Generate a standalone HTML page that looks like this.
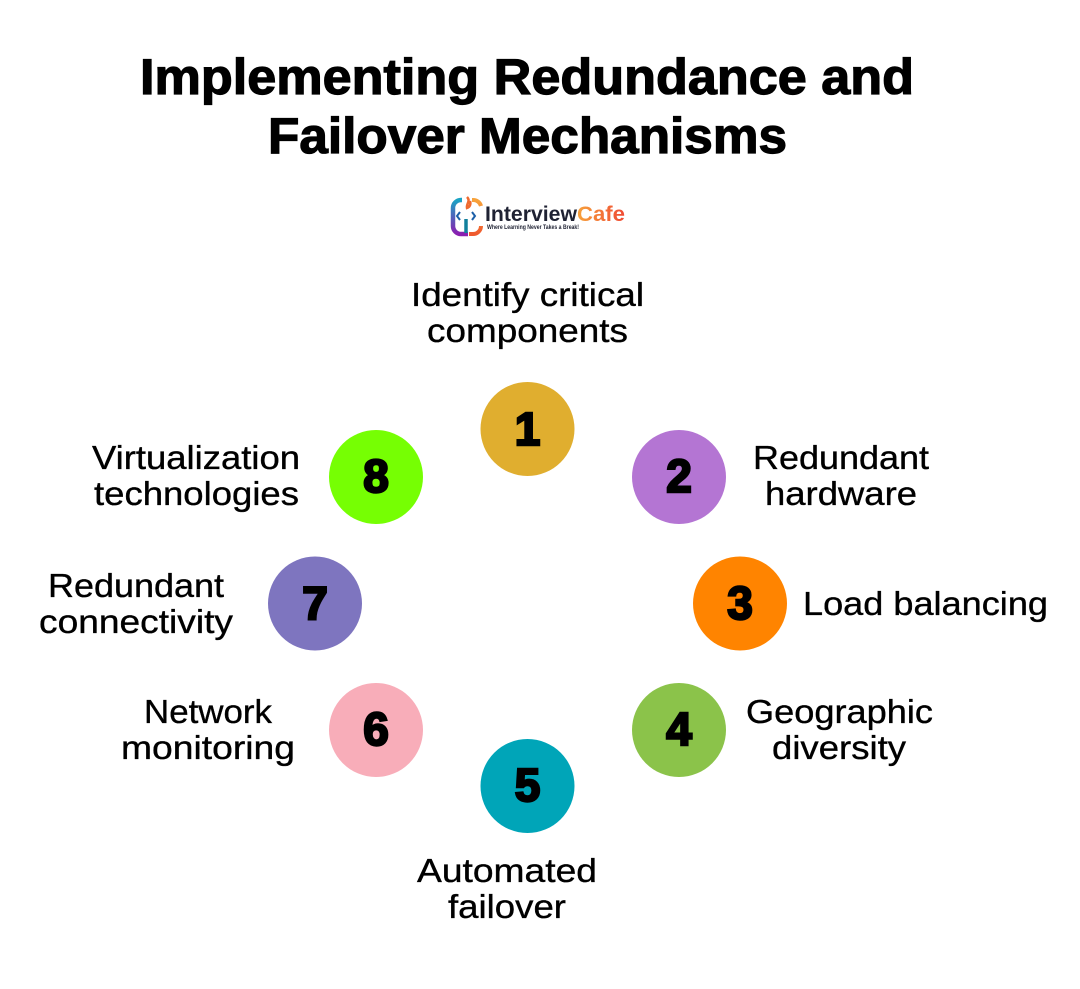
<!DOCTYPE html>
<html><head><meta charset="utf-8"><style>
html,body{margin:0;padding:0;background:#fff;width:1080px;height:989px;overflow:hidden}
svg{display:block}
text{font-family:"Liberation Sans",sans-serif;fill:#000}
.t{font-size:50px;font-weight:bold;stroke:#000;stroke-width:1.2px}
.l{font-size:33px;stroke:#000;stroke-width:.35px}
.n{font-size:46px;font-weight:bold;text-anchor:middle;stroke:#000;stroke-width:2.4px}
</style></head><body>
<svg width="1080" height="989" viewBox="0 0 1080 989" xmlns="http://www.w3.org/2000/svg">
<defs>
<linearGradient id="a" x1="0" y1="0" x2="0" y2="1"><stop offset="0" stop-color="#1aa3c4"/><stop offset="1" stop-color="#8a1fb0"/></linearGradient>
<linearGradient id="b" x1="0" y1="0" x2="0" y2="1"><stop offset="0" stop-color="#f7a23b"/><stop offset="1" stop-color="#ef5a2e"/></linearGradient>
<linearGradient id="c" x1="0" y1="0" x2="1" y2="0"><stop offset="0" stop-color="#f7a23b"/><stop offset="1" stop-color="#ef4a34"/></linearGradient>
</defs>
<text class="t" x="140" y="94" textLength="774" lengthAdjust="spacingAndGlyphs">Implementing Redundance and</text>
<text class="t" x="268" y="153" textLength="519" lengthAdjust="spacingAndGlyphs">Failover Mechanisms</text>

<path d="M462 200h-1a8 8 0 0 0-8 8v18a8 8 0 0 0 8 8h7" fill="none" stroke="url(#a)" stroke-width="4.500"/>
<path d="M472 200h1a8 8 0 0 1 8 6M481 226a8 8 0 0 1-8 8h-4" fill="none" stroke="url(#b)" stroke-width="4"/>
<path d="M467 197c4 4-1 7 0 11 3-1 4-4 3-7" fill="none" stroke="#ef6a2e" stroke-width="2.500"/>
<path d="M460 212l-3 4 3 4M472 212l3 4-3 4" fill="none" stroke="#1c5fa8" stroke-width="2"/>
<path d="M466 219v14" stroke="#12809c" stroke-width="3.500"/>
<text x="485" y="221" font-size="21" font-weight="bold" style="fill:#1f2233" textLength="92" lengthAdjust="spacingAndGlyphs">Interview</text>
<text x="577" y="221" font-size="21" font-weight="bold" style="fill:url(#c)" textLength="48" lengthAdjust="spacingAndGlyphs">Cafe</text>
<text x="487" y="229" font-size="6.500" font-weight="bold" style="fill:#1f2233" textLength="92" lengthAdjust="spacingAndGlyphs">Where Learning Never Takes a Break!</text>

<text class="l" x="411" y="306" textLength="233" lengthAdjust="spacingAndGlyphs">Identify critical</text>
<text class="l" x="427" y="342" textLength="201" lengthAdjust="spacingAndGlyphs">components</text>
<text class="l" x="753" y="469" textLength="176" lengthAdjust="spacingAndGlyphs">Redundant</text>
<text class="l" x="765" y="505" textLength="152" lengthAdjust="spacingAndGlyphs">hardware</text>
<text class="l" x="803" y="615" textLength="245" lengthAdjust="spacingAndGlyphs">Load balancing</text>
<text class="l" x="746" y="723" textLength="187" lengthAdjust="spacingAndGlyphs">Geographic</text>
<text class="l" x="772" y="759" textLength="134" lengthAdjust="spacingAndGlyphs">diversity</text>
<text class="l" x="417" y="882" textLength="180" lengthAdjust="spacingAndGlyphs">Automated</text>
<text class="l" x="448" y="918" textLength="118" lengthAdjust="spacingAndGlyphs">failover</text>
<text class="l" x="144" y="723" textLength="128" lengthAdjust="spacingAndGlyphs">Network</text>
<text class="l" x="121" y="759" textLength="174" lengthAdjust="spacingAndGlyphs">monitoring</text>
<text class="l" x="48" y="597" textLength="176" lengthAdjust="spacingAndGlyphs">Redundant</text>
<text class="l" x="39" y="633" textLength="194" lengthAdjust="spacingAndGlyphs">connectivity</text>
<text class="l" x="92" y="469" textLength="208" lengthAdjust="spacingAndGlyphs">Virtualization</text>
<text class="l" x="94" y="505" textLength="205" lengthAdjust="spacingAndGlyphs">technologies</text>

<circle cx="527.500" cy="429" r="47" fill="#e0ae2f"/>
<circle cx="679" cy="477" r="47" fill="#b475d3"/>
<circle cx="740" cy="603.500" r="47" fill="#ff8400"/>
<circle cx="679" cy="730" r="47" fill="#8bc34a"/>
<circle cx="527.500" cy="786" r="47" fill="#00a5b8"/>
<circle cx="376" cy="730" r="47" fill="#f8adb9"/>
<circle cx="315" cy="603.500" r="47" fill="#7e75bf"/>
<circle cx="376" cy="477" r="47" fill="#76ff03"/>

<text class="n" x="527.500" y="445">1</text>
<text class="n" x="679" y="492">2</text>
<text class="n" x="740" y="619">3</text>
<text class="n" x="679" y="745">4</text>
<text class="n" x="527.500" y="801">5</text>
<text class="n" x="376" y="745">6</text>
<text class="n" x="315" y="619">7</text>
<text class="n" x="376" y="492">8</text>
</svg>
</body></html>
